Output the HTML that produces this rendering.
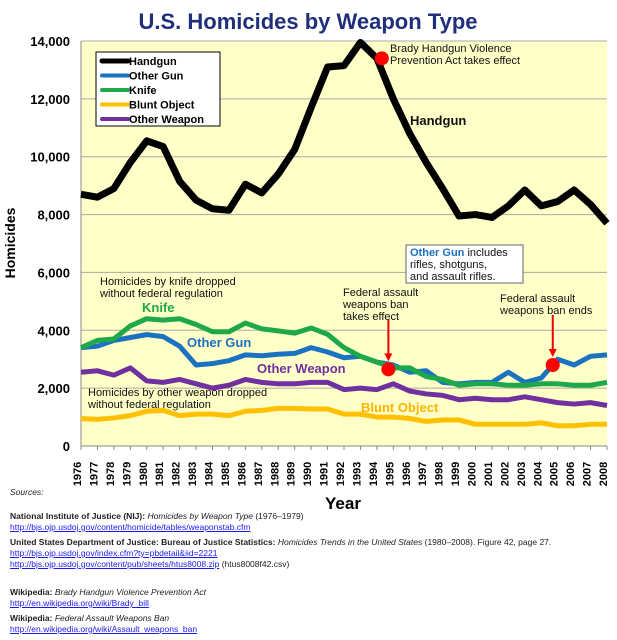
<!DOCTYPE html>
<html><head><meta charset="utf-8"><style>
body{margin:0;background:#fff;width:617px;height:640px;overflow:hidden;font-family:"Liberation Sans",sans-serif}
svg{position:absolute;left:0;top:0}
.src{position:absolute;left:10px;font-size:8.5px;color:#222;line-height:11px;white-space:nowrap}
.src a{color:#1a1aee;text-decoration:underline}
</style></head><body>
<svg width="617" height="640">
<text x="308" y="29" text-anchor="middle" font-size="22" font-weight="bold" fill="#1f2f7a">U.S. Homicides by Weapon Type</text>
<rect x="81" y="41" width="526" height="405" fill="#ffffc8"/>
<g id="grid"></g>
<g id="ticks"></g>
<g id="lines"></g>
<text x="15" y="243" transform="rotate(-90 15 243)" text-anchor="middle" font-size="14" font-weight="bold">Homicides</text>
<text x="343" y="509" text-anchor="middle" font-size="17" font-weight="bold">Year</text>
<g>
<rect x="96" y="52" width="124" height="74" fill="#fff" stroke="#000"/>
<g id="legend"></g>
</g>
<g font-size="11" fill="#111">
<text x="390" y="52"><tspan x="390">Brady Handgun Violence</tspan><tspan x="390" dy="12">Prevention Act takes effect</tspan></text>
<text x="410" y="125" font-size="13" font-weight="bold">Handgun</text>
<text x="100" y="285"><tspan x="100">Homicides by knife dropped</tspan><tspan x="100" dy="12">without federal regulation</tspan></text>
<text x="142" y="312" font-size="13" font-weight="bold" fill="#1fa84a">Knife</text>
<text x="187" y="347" font-size="13" font-weight="bold" fill="#1a72c0">Other Gun</text>
<text x="257" y="373" font-size="13" font-weight="bold" fill="#7030a0">Other Weapon</text>
<text x="88" y="396"><tspan x="88">Homicides by other weapon dropped</tspan><tspan x="88" dy="12">without federal regulation</tspan></text>
<text x="361" y="412" font-size="13" font-weight="bold" fill="#ffb400">Blunt Object</text>
<text x="343" y="296"><tspan x="343">Federal assault</tspan><tspan x="343" dy="12">weapons ban</tspan><tspan x="343" dy="12">takes effect</tspan></text>
<text x="500" y="302"><tspan x="500">Federal assault</tspan><tspan x="500" dy="12">weapons ban ends</tspan></text>
<g>
<rect x="406" y="245" width="117" height="38" fill="#fff" stroke="#666"/>
<text x="410" y="256"><tspan fill="#1a72c0" font-weight="bold">Other Gun</tspan> includes</text>
<text x="410" y="268">rifles, shotguns,</text>
<text x="410" y="280">and assault rifles.</text>
</g>
</g>
<g id="markers"></g>
</svg>
<div class="src" style="top:487px;font-style:italic">Sources:</div>
<div class="src" style="top:511px"><b>National Institute of Justice (NIJ):</b> <i>Homicides by Weapon Type</i> (1976–1979)<br><a>http://bjs.ojp.usdoj.gov/content/homicide/tables/weaponstab.cfm</a></div>
<div class="src" style="top:537px"><b>United States Department of Justice: Bureau of Justice Statistics:</b> <i>Homicides Trends in the United States</i> (1980–2008). Figure 42, page 27.<br><a>http://bjs.ojp.usdoj.gov/index.cfm?ty=pbdetail&amp;iid=2221</a><br><a>http://bjs.ojp.usdoj.gov/content/pub/sheets/htus8008.zip</a> (htus8008f42.csv)</div>
<div class="src" style="top:587px"><b>Wikipedia:</b> <i>Brady Handgun Violence Prevention Act</i><br><a>http://en.wikipedia.org/wiki/Brady_bill</a></div>
<div class="src" style="top:613px"><b>Wikipedia:</b> <i>Federal Assault Weapons Ban</i><br><a>http://en.wikipedia.org/wiki/Assault_weapons_ban</a></div>
<script>
const years=[1976,1977,1978,1979,1980,1981,1982,1983,1984,1985,1986,1987,1988,1989,1990,1991,1992,1993,1994,1995,1996,1997,1998,1999,2000,2001,2002,2003,2004,2005,2006,2007,2008];
const yTicks=[0,2000,4000,6000,8000,10000,12000,14000];
const handgun=[8700,8600,8900,9800,10550,10350,9150,8500,8200,8150,9050,8750,9400,10250,11700,13100,13150,13950,13400,12000,10800,9800,8900,7950,8000,7900,8300,8850,8300,8450,8850,8350,7700];
const otherGun=[3400,3450,3650,3750,3850,3780,3450,2800,2850,2950,3150,3120,3170,3200,3400,3250,3050,3100,2900,2800,2550,2600,2200,2150,2200,2200,2550,2200,2350,3000,2800,3100,3150];
const knife=[3400,3650,3700,4150,4400,4350,4400,4200,3950,3950,4250,4050,3980,3900,4080,3860,3400,3100,2900,2700,2700,2400,2300,2100,2150,2150,2100,2100,2150,2150,2100,2100,2200];
const blunt=[950,920,970,1050,1200,1230,1050,1100,1100,1050,1200,1230,1300,1300,1280,1280,1100,1100,1000,1000,950,850,900,900,750,750,750,750,800,700,700,750,750];
const otherWeapon=[2550,2600,2450,2700,2250,2200,2300,2150,2000,2100,2300,2200,2150,2150,2200,2200,1950,2000,1950,2150,1900,1800,1750,1600,1650,1600,1600,1700,1600,1500,1450,1500,1400];
const seriesNames=["Handgun","Other Gun","Knife","Blunt Object","Other Weapon"];
const markerPoints=[[1994.3,13400],[1994.7,2650],[2004.7,2800]];
const NS="http://www.w3.org/2000/svg";
const X=y=>81+(y-1976)*(526/32);
const Y=v=>446-v*(405/14000);
function mk(t,a,p){const e=document.createElementNS(NS,t);for(const k in a)e.setAttribute(k,a[k]);p.appendChild(e);return e;}
const grid=document.getElementById('grid'),ticks=document.getElementById('ticks');
yTicks.forEach(v=>{
 const l=mk('line',{x1:81,x2:607,y1:Y(v),y2:Y(v),stroke:v?'#aaa':'#888','stroke-width':1},grid);
 
 
 const t=mk('text',{x:70,y:Y(v)+5,'text-anchor':'end','font-size':13,'font-weight':'bold'},ticks);
 t.textContent=v.toLocaleString('en-US');
 
 
});
mk('line',{x1:81,x2:81,y1:41,y2:446,stroke:'#888'},grid);
years.forEach(yr=>{
 mk('line',{x1:X(yr),x2:X(yr),y1:446,y2:450,stroke:'#888'},ticks);
 const t=mk('text',{x:X(yr)+4,y:478,'font-size':11,'font-weight':'bold','text-anchor':'middle',transform:`rotate(-90 ${X(yr)} 478)`},ticks);
 t.textContent=yr;
 
 
});
const data=[handgun,otherGun,knife,blunt,otherWeapon];
const colors=['#000','#1a72c0','#1fa84a','#ffc000','#7030a0'];
const widths=[7,5,5,5,5];
const lines=document.getElementById('lines');
[3,4,1,2,0].forEach(i=>{
 const p=mk('polyline',{points:data[i].map((v,j)=>X(years[j])+','+Y(v)).join(' '),fill:'none',stroke:colors[i],'stroke-width':widths[i],'stroke-linejoin':'round'},lines);
 
 
});
const lg=document.getElementById('legend');
seriesNames.forEach((n,i)=>{
 const y=61+i*14.5;
 mk('line',{x1:102,x2:128,y1:y,y2:y,stroke:colors[i],'stroke-width':i?4:5,'stroke-linecap':'round'},lg);
 const t=mk('text',{x:129,y:y+4,'font-size':11,'font-weight':'bold'},lg);
 t.textContent=n;
 
 
});
const mg=document.getElementById('markers');
[[1994.7,2650],[2004.7,2800]].forEach(([yr,v])=>{
 mk('line',{x1:X(yr),x2:X(yr),y1:Y(v)-50,y2:Y(v)-15,stroke:'#e00','stroke-width':2},mg);
 mk('polygon',{points:`${X(yr)-4},${Y(v)-16} ${X(yr)+4},${Y(v)-16} ${X(yr)},${Y(v)-8}`,fill:'#e00'},mg);
});
markerPoints.forEach(([yr,v])=>{
 const c=mk('circle',{cx:X(yr),cy:Y(v),r:7,fill:'#f00'},mg);
 
 
});
</script>
</body></html>
